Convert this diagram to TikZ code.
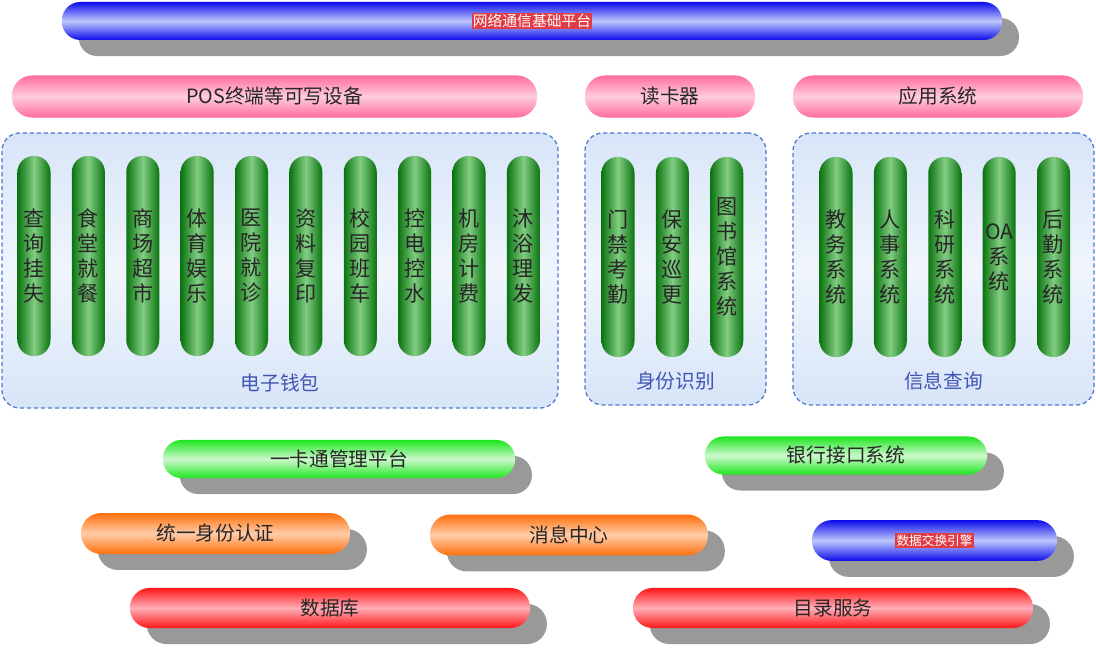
\documentclass[tikz,border=0pt]{standalone}
\usepackage{fontspec}
\setmainfont{Noto Sans CJK SC}
\usepackage{xcolor}
\definecolor{deepblue}{RGB}{12,12,235}
\definecolor{paleblue}{RGB}{190,200,252}
\definecolor{rose}{RGB}{255,108,158}
\definecolor{palerose}{RGB}{255,205,222}
\definecolor{darkgreen}{RGB}{10,115,15}
\definecolor{midgreen}{RGB}{130,205,130}
\definecolor{limegreen}{RGB}{30,230,30}
\definecolor{palelime}{RGB}{205,248,205}
\definecolor{tangerine}{RGB}{255,112,12}
\definecolor{paletangerine}{RGB}{255,205,170}
\definecolor{signalred}{RGB}{255,22,22}
\definecolor{palered}{RGB}{255,175,185}
\definecolor{groupfill}{RGB}{216,229,248}
\definecolor{groupmid}{RGB}{240,245,253}
\definecolor{groupline}{RGB}{80,120,210}
\definecolor{grouptext}{RGB}{65,85,180}
\definecolor{tagred}{RGB}{225,60,70}
\usepackage{tikz}
\usetikzlibrary{shapes,positioning,shadows}

\begin{document}
\begin{tikzpicture}[
        x=0.025cm, y=-0.025cm,
        node distance=0.52cm,
        bar/.style={rectangle, inner sep=0pt, minimum height=0.95cm, rounded corners=0.46cm, text=black!85, font=\fontsize{14pt}{16pt}\selectfont},
        shadowed/.style={drop shadow={shadow xshift=0.42cm, shadow yshift=-0.4cm, fill=black!40, opacity=1}},
        bluebar/.style={bar, shadowed, top color=deepblue, bottom color=deepblue, middle color=paleblue},
        pinkbar/.style={bar, minimum height=1.05cm, rounded corners=0.5cm, top color=rose, bottom color=rose, middle color=palerose},
        greenbar/.style={bar, shadowed, top color=limegreen, bottom color=limegreen, middle color=palelime},
        orangebar/.style={bar, shadowed, minimum height=1.02cm, rounded corners=0.5cm, top color=tangerine, bottom color=tangerine, middle color=paletangerine},
        redbar/.style={bar, shadowed, minimum height=1cm, rounded corners=0.49cm, top color=signalred, bottom color=signalred, middle color=palered},
        group/.style={rectangle, draw=groupline, densely dashed, line width=0.9pt, rounded corners=0.45cm, top color=groupfill, bottom color=groupfill, middle color=groupmid},
        grouplabel/.style={text=grouptext, font=\fontsize{14pt}{16pt}\selectfont},
        pill/.style={rectangle, inner sep=0pt, minimum width=0.825cm, minimum height=5cm, rounded corners=0.4cm, left color=darkgreen, right color=darkgreen, middle color=midgreen, text=black!85, align=center, font=\fontsize{15pt}{17.8pt}\selectfont}
    ]
        \fill[white] (0,0) rectangle (1096,648);
        \useasboundingbox (0,0) rectangle (1096,648);

        % network layer
        \node[bluebar, minimum width=23.5cm] (net) at (532,21) {\setlength{\fboxsep}{1pt}\colorbox{tagred}{\textcolor{white}{\fontsize{10.5pt}{12pt}\selectfont 网络通信基础平台}}};

        % devices
        \node[pinkbar, minimum width=13.125cm] (pos) at (274.5,96.5) {POS终端等可写设备};
        \node[pinkbar, minimum width=4.25cm] (reader) at (670,96.5) {读卡器};
        \node[pinkbar, minimum width=7.25cm] (apps) at (938,96.5) {应用系统};

        % groups
        \node[group, minimum width=13.9cm, minimum height=6.875cm] (wallet) at (280,270.5) {};
        \node[group, minimum width=4.525cm, minimum height=6.8cm] (ident) at (675.5,269) {};
        \node[group, minimum width=7.525cm, minimum height=6.8cm] (query) at (943.5,269) {};

        \node[grouplabel] (walletlbl) at (280,383) {电子钱包};
        \node[grouplabel] (identlbl) at (675.5,381) {身份识别};
        \node[grouplabel] (querylbl) at (943.5,381) {信息查询};

        % e-wallet services
        \node[pill] (w1) at (34,256) {查\\询\\挂\\失};
        \node[pill, right=of w1] (w2) {食\\堂\\就\\餐};
        \node[pill, right=of w2] (w3) {商\\场\\超\\市};
        \node[pill, right=of w3] (w4) {体\\育\\娱\\乐};
        \node[pill, right=of w4] (w5) {医\\院\\就\\诊};
        \node[pill, right=of w5] (w6) {资\\料\\复\\印};
        \node[pill, right=of w6] (w7) {校\\园\\班\\车};
        \node[pill, right=of w7] (w8) {控\\电\\控\\水};
        \node[pill, right=of w8] (w9) {机\\房\\计\\费};
        \node[pill, right=of w9] (w10) {沐\\浴\\理\\发};

        % identification services
        \node[pill] (i1) at (618,257) {门\\禁\\考\\勤};
        \node[pill, right=of i1] (i2) {保\\安\\巡\\更};
        \node[pill, right=of i2] (i3) {图\\书\\馆\\系\\统};

        % information query services
        \node[pill] (q1) at (836,257) {教\\务\\系\\统};
        \node[pill, right=of q1] (q2) {人\\事\\系\\统};
        \node[pill, right=of q2] (q3) {科\\研\\系\\统};
        \node[pill, right=of q3] (q4) {OA\\系\\统};
        \node[pill, right=of q4] (q5) {后\\勤\\系\\统};

        % platform
        \node[greenbar, minimum width=8.8cm] (card) at (339,459) {一卡通管理平台};
        \node[greenbar, minimum width=7.05cm] (bank) at (846,455.5) {银行接口系统};

        \node[orangebar, minimum width=6.725cm] (auth) at (215.5,533.5) {统一身份认证};
        \node[orangebar, minimum width=6.95cm] (msg) at (569,535) {消息中心};
        \node[bluebar, minimum width=6.125cm, minimum height=1.02cm, rounded corners=0.5cm] (xchg) at (934.5,540.5) {\setlength{\fboxsep}{1pt}\colorbox{tagred}{\textcolor{white}{\fontsize{9pt}{10pt}\selectfont 数据交换引擎}}};

        \node[redbar, minimum width=10cm] (db) at (330,608) {数据库};
        \node[redbar, minimum width=10cm] (dir) at (833,608) {目录服务};
    \end{tikzpicture}
\end{document}
